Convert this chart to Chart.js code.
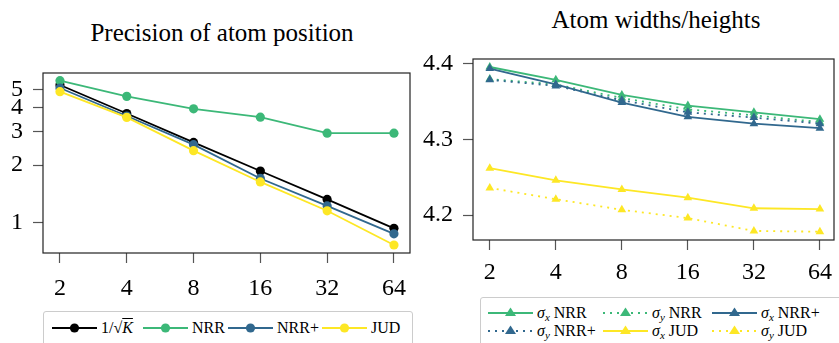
<!DOCTYPE html>
<html><head><meta charset="utf-8">
<script src="https://cdn.jsdelivr.net/npm/chart.js@4.4.1/dist/chart.umd.min.js"></script>
<style>
html,body{margin:0;padding:0;width:839px;height:343px;overflow:hidden;background:#fff;font-family:"Liberation Serif","DejaVu Serif",serif;}
.title{position:absolute;font-size:25px;white-space:nowrap;transform:translateX(-50%);line-height:1;color:#000;}
.cv{position:absolute;}
.legend{position:absolute;border:1px solid #ccc;border-radius:3px;background:#fff;font-size:16px;box-sizing:border-box;}
.item{position:absolute;display:flex;align-items:center;white-space:nowrap;height:16px;line-height:16px;color:#000;}
.item svg{margin-right:4px;display:block;}
sub{font-size:11px;vertical-align:-3px;line-height:0;}
.ov{text-decoration:overline;}
</style></head><body>
<div class="title" style="left:222px;top:20px">Precision of atom position</div>
<div class="title" style="left:656px;top:7px">Atom widths/heights</div>
<div class="cv" style="left:0;top:0;width:420px;height:300px"><canvas id="c1"></canvas></div>
<div class="cv" style="left:420px;top:0;width:419px;height:300px"><canvas id="c2"></canvas></div>
<div class="legend" id="lg1" style="left:43px;top:311px;width:370px;height:40px"></div>
<div class="legend" id="lg2" style="left:480px;top:297px;width:365px;height:52px"></div>
<script>
// ---- data ----
const K = [2, 4, 8, 16, 32, 64];
const invSqrtK = [5.27, 3.73, 2.63, 1.86, 1.32, 0.93];
const nrr      = [5.55, 4.59, 3.95, 3.57, 2.94, 2.94];
const nrrPlus  = [5.08, 3.62, 2.56, 1.70, 1.22, 0.87];
const jud      = [4.86, 3.56, 2.38, 1.63, 1.15, 0.76];
const leftYTicks = [1, 2, 3, 4, 5];

const sxNRR  = [4.396, 4.379, 4.359, 4.345, 4.336, 4.327];
const syNRR  = [4.380, 4.373, 4.355, 4.340, 4.332, 4.323];
const sxNRRp = [4.394, 4.373, 4.349, 4.330, 4.321, 4.315];
const syNRRp = [4.379, 4.371, 4.352, 4.336, 4.329, 4.321];
const sxJUD  = [4.262, 4.246, 4.234, 4.223, 4.209, 4.208];
const syJUD  = [4.236, 4.221, 4.207, 4.196, 4.179, 4.178];
const rightYTicks = [4.2, 4.3, 4.4];

// ---- styles ----
const C_BLACK = '#000000', C_GREEN = '#3cb878', C_BLUE = '#31688e', C_YELLOW = '#fde725';
const FONT = '"Liberation Serif","DejaVu Serif",serif';

const pts = arr => K.map((k, i) => ({x: k, y: arr[i]}));

const boxPlugin = {
  id: 'box',
  afterDatasetsDraw(chart) {
    const a = chart.chartArea, ctx = chart.ctx;
    ctx.save();
    ctx.strokeStyle = '#222';
    ctx.lineWidth = 1.2;
    ctx.strokeRect(a.left, a.top, a.right - a.left, a.bottom - a.top);
    ctx.restore();
  }
};

function xScale(min, max, h, pad) {
  return {
    type: 'logarithmic', min: min, max: max,
    afterBuildTicks: s => { s.ticks = K.map(v => ({value: v})); },
    afterFit: s => { s.height = h; s.paddingLeft = 0; s.paddingRight = 0; },
    ticks: {callback: v => String(v), color: '#000', font: {family: FONT, size: 24}, padding: pad, maxRotation: 0, autoSkip: false},
    grid: {drawOnChartArea: false, drawTicks: true, tickLength: 10, color: '#555', tickWidth: 1.2},
    border: {display: false}
  };
}

function lineDs(label, arr, color, dashed, pointStyle, order) {
  return {
    label: label, data: pts(arr),
    borderColor: color, backgroundColor: color,
    borderWidth: 1.8,
    borderDash: dashed ? [2, 5] : [],
    pointStyle: pointStyle,
    pointRadius: pointStyle === 'triangle' ? 5 : 4.6,
    pointBorderWidth: 0,
    pointBackgroundColor: color,
    tension: 0, fill: false, order: order
  };
}

const common = {
  responsive: true, maintainAspectRatio: false, animation: false,
  plugins: {legend: {display: false}, title: {display: false}, tooltip: {enabled: false}}
};

new Chart(document.getElementById('c1'), {
  type: 'line',
  data: {datasets: [
    lineDs('1/√K', invSqrtK, C_BLACK, false, 'circle', 4),
    lineDs('NRR', nrr, C_GREEN, false, 'circle', 3),
    lineDs('NRR+', nrrPlus, C_BLUE, false, 'circle', 2),
    lineDs('JUD', jud, C_YELLOW, false, 'circle', 1)
  ]},
  options: Object.assign({}, common, {
    layout: {padding: {top: 73, right: 10, left: 0, bottom: 0}},
    scales: {
      x: xScale(1.677, 75.6, 47, 11),
      y: {
        type: 'logarithmic', min: 0.69, max: 6.09,
        afterBuildTicks: s => { s.ticks = leftYTicks.map(v => ({value: v})); },
        afterFit: s => { s.width = 43; s.paddingTop = 0; s.paddingBottom = 0; },
        ticks: {callback: v => String(v), color: '#000', font: {family: FONT, size: 24}, padding: 10},
        grid: {drawOnChartArea: false, drawTicks: true, tickLength: 10, color: '#555', tickWidth: 1.2},
        border: {display: false}
      }
    }
  }),
  plugins: [boxPlugin]
});

new Chart(document.getElementById('c2'), {
  type: 'line',
  data: {datasets: [
    lineDs('σx NRR', sxNRR, C_GREEN, false, 'triangle', 6),
    lineDs('σy NRR', syNRR, C_GREEN, true, 'triangle', 5),
    lineDs('σx NRR+', sxNRRp, C_BLUE, false, 'triangle', 4),
    lineDs('σy NRR+', syNRRp, C_BLUE, true, 'triangle', 3),
    lineDs('σx JUD', sxJUD, C_YELLOW, false, 'triangle', 2),
    lineDs('σy JUD', syJUD, C_YELLOW, true, 'triangle', 1)
  ]},
  options: Object.assign({}, common, {
    layout: {padding: {top: 59, right: 1, left: 0, bottom: 0}},
    scales: {
      x: xScale(1.677, 74.2, 60, 8),
      y: {
        type: 'linear', min: 4.167, max: 4.4066,
        afterBuildTicks: s => { s.ticks = rightYTicks.map(v => ({value: v})); },
        afterFit: s => { s.width = 53; s.paddingTop = 0; s.paddingBottom = 0; },
        ticks: {callback: v => v.toFixed(1), color: '#000', font: {family: FONT, size: 24}, padding: 10},
        grid: {drawOnChartArea: false, drawTicks: true, tickLength: 10, color: '#555', tickWidth: 1.2},
        border: {display: false}
      }
    }
  }),
  plugins: [boxPlugin]
});

// ---- HTML legends ----
function sample(color, dashed, marker) {
  const dash = dashed ? ' stroke-dasharray="2 5"' : '';
  const m = marker === 'circle'
    ? `<circle cx="22.5" cy="8" r="4.6" fill="${color}"/>`
    : `<polygon points="22.5,2.5 28,11 17,11" fill="${color}"/>`;
  return `<svg width="45" height="16"><line x1="0" y1="8" x2="45" y2="8" stroke="${color}" stroke-width="1.8"${dash}/>${m}</svg>`;
}
function addItems(el, items) {
  items.forEach(it => {
    const d = document.createElement('div');
    d.className = 'item';
    d.style.left = it.x + 'px';
    d.style.top = it.y + 'px';
    d.innerHTML = sample(it.color, it.dashed, it.marker) + '<span>' + it.html + '</span>';
    el.appendChild(d);
  });
}
addItems(document.getElementById('lg1'), [
  {x: 8, y: 8, color: C_BLACK, dashed: false, marker: 'circle', html: '1/√<span class="ov"><i>K</i></span>'},
  {x: 99, y: 8, color: C_GREEN, dashed: false, marker: 'circle', html: 'NRR'},
  {x: 184, y: 8, color: C_BLUE, dashed: false, marker: 'circle', html: 'NRR+'},
  {x: 278, y: 8, color: C_YELLOW, dashed: false, marker: 'circle', html: 'JUD'}
]);
const sx = '<i>σ</i><sub><i>x</i></sub> ', sy = '<i>σ</i><sub><i>y</i></sub> ';
addItems(document.getElementById('lg2'), [
  {x: 7, y: 7, color: C_GREEN, dashed: false, marker: 'triangle', html: sx + 'NRR'},
  {x: 122, y: 7, color: C_GREEN, dashed: true, marker: 'triangle', html: sy + 'NRR'},
  {x: 231, y: 7, color: C_BLUE, dashed: false, marker: 'triangle', html: sx + 'NRR+'},
  {x: 7, y: 25, color: C_BLUE, dashed: true, marker: 'triangle', html: sy + 'NRR+'},
  {x: 122, y: 25, color: C_YELLOW, dashed: false, marker: 'triangle', html: sx + 'JUD'},
  {x: 231, y: 25, color: C_YELLOW, dashed: true, marker: 'triangle', html: sy + 'JUD'}
]);
</script>
</body></html>
